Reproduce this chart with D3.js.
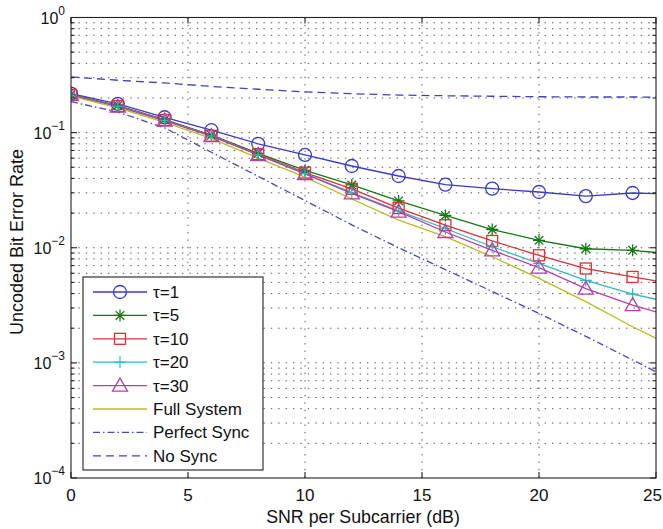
<!DOCTYPE html>
<html><head><meta charset="utf-8">
<script src="https://cdn.jsdelivr.net/npm/d3@7"></script>
<style>body{margin:0;background:#fff}svg{display:block}</style>
</head><body><svg id="c" width="663" height="529"></svg>
<script>
// ---- data ----
const snr = [0, 2, 4, 6, 8, 10, 12, 14, 16, 18, 20, 22, 24, 26];
const tau1 = [0.218, 0.178, 0.136, 0.105, 0.080, 0.064, 0.0513, 0.0420, 0.0353, 0.0326, 0.0305, 0.0281, 0.0299, 0.0291];
const tau5 = [0.214, 0.172, 0.130, 0.095, 0.066, 0.0470, 0.0351, 0.0255, 0.0191, 0.0144, 0.0116, 0.0098, 0.0095, 0.0087];
const tau10 = [0.213, 0.170, 0.129, 0.094, 0.065, 0.0450, 0.0325, 0.0221, 0.0157, 0.01145, 0.0086, 0.0066, 0.00558, 0.00475];
const tau20 = [0.212, 0.169, 0.128, 0.0935, 0.0642, 0.0440, 0.0302, 0.0209, 0.0147, 0.0102, 0.0073, 0.0052, 0.00395, 0.00323];
const tau30 = [0.212, 0.168, 0.127, 0.0934, 0.0639, 0.0437, 0.0297, 0.0206, 0.0137, 0.0095, 0.00673, 0.00442, 0.00317, 0.00242];
const fullSystem = [0.208, 0.164, 0.123, 0.089, 0.060, 0.041, 0.0265, 0.0174, 0.0125, 0.00835, 0.00542, 0.0034, 0.00206, 0.0013];
const perfectSync = [0.186, 0.151, 0.110, 0.0676, 0.0417, 0.0257, 0.0158, 0.0100, 0.00646, 0.00417, 0.00269, 0.00170, 0.00106, 0.00066];
const noSync = [0.305, 0.285, 0.270, 0.252, 0.238, 0.226, 0.218, 0.212, 0.209, 0.207, 0.205, 0.204, 0.204, 0.203];
const seriesNames = ["τ=1", "τ=5", "τ=10", "τ=20", "τ=30", "Full System", "Perfect Sync", "No Sync"];
const xTicks = [0, 5, 10, 15, 20, 25];
const yExponents = [0, -1, -2, -3, -4];
const xLabel = "SNR per Subcarrier (dB)";
const yLabel = "Uncoded Bit Error Rate";

// ---- styles ----
const styles = [
  {vals: tau1, color: "#3a3ad0", marker: "circle"},
  {vals: tau5, color: "#137a13", marker: "star"},
  {vals: tau10, color: "#e03030", marker: "square"},
  {vals: tau20, color: "#2cbcbc", marker: "plus"},
  {vals: tau30, color: "#b040b0", marker: "triangle"},
  {vals: fullSystem, color: "#bcbc20", marker: null},
  {vals: perfectSync, color: "#4848b8", marker: null, dash: "7,3,1.5,3"},
  {vals: noSync, color: "#4040c0", marker: null, dash: "8,5"}
];

const svg = d3.select("#c");
const L = 71, R = 656, T = 17.5, B = 478;
const x = d3.scaleLinear().domain([0, 25]).range([L, R]);
const y = d3.scaleLog().domain([1e-4, 1]).range([B, T]);
const font = "'Liberation Sans', Arial, Helvetica, sans-serif";

// grid
const grid = svg.append("g").attr("stroke", "#555").attr("stroke-width", 1).attr("stroke-dasharray", "1.4,6");
xTicks.slice(1, -1).forEach(t => grid.append("line").attr("x1", x(t)).attr("x2", x(t)).attr("y1", T).attr("y2", B));
const yGridVals = [];
for (let e = -4; e < 0; e++) for (let m = 1; m <= 9; m++) yGridVals.push(m * Math.pow(10, e));
yGridVals.slice(1).forEach(v => grid.append("line").attr("x1", L).attr("x2", R).attr("y1", y(v)).attr("y2", y(v)));

// clip
svg.append("clipPath").attr("id", "clip").append("rect").attr("x", L).attr("y", T).attr("width", R - L).attr("height", B - T);
const plot = svg.append("g").attr("clip-path", "url(#clip)");

const line = d3.line().x((d, i) => x(snr[i])).y(d => y(d));

function drawMarker(g, type, cx, cy, color) {
  if (type === "circle") g.append("circle").attr("cx", cx).attr("cy", cy).attr("r", 6.5).attr("fill", "none").attr("stroke", color).attr("stroke-width", 1.3);
  else if (type === "square") g.append("rect").attr("x", cx - 5.5).attr("y", cy - 5.5).attr("width", 11).attr("height", 11).attr("fill", "none").attr("stroke", color).attr("stroke-width", 1.3);
  else if (type === "triangle") g.append("path").attr("d", `M${cx},${cy - 7.5}L${cx + 7.5},${cy + 5.5}L${cx - 7.5},${cy + 5.5}Z`).attr("fill", "none").attr("stroke", color).attr("stroke-width", 1.3);
  else if (type === "plus") g.append("path").attr("d", `M${cx - 6},${cy}H${cx + 6}M${cx},${cy - 6}V${cy + 6}`).attr("stroke", color).attr("stroke-width", 1.2);
  else if (type === "star") g.append("path").attr("d", `M${cx - 6},${cy}H${cx + 6}M${cx},${cy - 6}V${cy + 6}M${cx - 4.3},${cy - 4.3}L${cx + 4.3},${cy + 4.3}M${cx - 4.3},${cy + 4.3}L${cx + 4.3},${cy - 4.3}`).attr("stroke", color).attr("stroke-width", 1.3);
}

styles.forEach(s => {
  plot.append("path").datum(s.vals).attr("d", line).attr("fill", "none").attr("stroke", s.color)
    .attr("stroke-width", 1.3).attr("stroke-dasharray", s.dash || null);
});
styles.forEach(s => {
  if (!s.marker) return;
  s.vals.forEach((v, i) => drawMarker(plot, s.marker, x(snr[i]), y(v), s.color));
});

// axes box
const ax = svg.append("g").attr("stroke", "#222").attr("stroke-width", 1.1);
ax.append("rect").attr("x", L).attr("y", T).attr("width", R - L).attr("height", B - T).attr("fill", "none");
xTicks.forEach(t => {
  ax.append("line").attr("x1", x(t)).attr("x2", x(t)).attr("y1", B).attr("y2", B - 6);
  ax.append("line").attr("x1", x(t)).attr("x2", x(t)).attr("y1", T).attr("y2", T + 6);
});
yGridVals.forEach((v, i) => {
  const len = (i % 9 === 0) ? 6 : 3.5;
  ax.append("line").attr("x1", L).attr("x2", L + len).attr("y1", y(v)).attr("y2", y(v));
  ax.append("line").attr("x1", R).attr("x2", R - len).attr("y1", y(v)).attr("y2", y(v));
});

// tick labels
const tl = svg.append("g").attr("font-family", font).attr("fill", "#111");
xTicks.forEach((t, i) => {
  const last = i === xTicks.length - 1;
  tl.append("text").attr("x", last ? 662 : x(t)).attr("y", 501).attr("text-anchor", last ? "end" : "middle").attr("font-size", 17).text(t);
});
yExponents.forEach(e => {
  const t = tl.append("text").attr("x", 65).attr("y", y(Math.pow(10, e)) + 6).attr("text-anchor", "end").attr("font-size", 16);
  t.append("tspan").text("10");
  t.append("tspan").attr("dy", -9).attr("font-size", 12).text(e === 0 ? "0" : "\u2212" + (-e));
});
tl.append("text").attr("x", 363).attr("y", 523).attr("text-anchor", "middle").attr("font-size", 17.8).text(xLabel);
tl.append("text").attr("transform", `translate(23,242) rotate(-90)`).attr("text-anchor", "middle").attr("font-size", 18).text(yLabel);

// legend
const lg = svg.append("g");
lg.append("rect").attr("x", 83).attr("y", 277).attr("width", 180).attr("height", 193).attr("fill", "#fff").attr("stroke", "#222").attr("stroke-width", 1.1);
styles.forEach((s, i) => {
  const ly = 292 + i * 23.4;
  lg.append("line").attr("x1", 93).attr("x2", 147).attr("y1", ly).attr("y2", ly).attr("stroke", s.color).attr("stroke-width", 1.3).attr("stroke-dasharray", s.dash || null);
  if (s.marker) drawMarker(lg, s.marker, 120, ly, s.color);
  lg.append("text").attr("x", 153).attr("y", ly + 6).attr("font-family", font).attr("font-size", 17).attr("fill", "#111").text(seriesNames[i]);
});
</script>
</body></html>
